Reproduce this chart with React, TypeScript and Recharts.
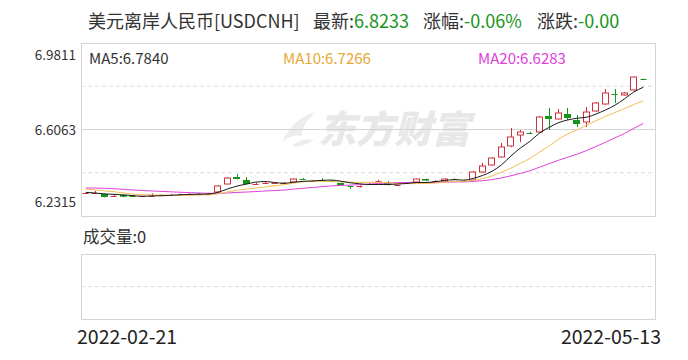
import { Bar, CartesianGrid, ComposedChart, Line, XAxis, YAxis } from 'recharts';

// trading days shown
const dates = [
  '2022-02-21', '2022-02-22', '2022-02-23', '2022-02-24', '2022-02-25',
  '2022-02-28', '2022-03-01', '2022-03-02', '2022-03-03', '2022-03-04',
  '2022-03-07', '2022-03-08', '2022-03-09', '2022-03-10', '2022-03-11',
  '2022-03-14', '2022-03-15', '2022-03-16', '2022-03-17', '2022-03-18',
  '2022-03-21', '2022-03-22', '2022-03-23', '2022-03-24', '2022-03-25',
  '2022-03-28', '2022-03-29', '2022-03-30', '2022-03-31', '2022-04-01',
  '2022-04-04', '2022-04-05', '2022-04-06', '2022-04-07', '2022-04-08',
  '2022-04-11', '2022-04-12', '2022-04-13', '2022-04-14', '2022-04-15',
  '2022-04-18', '2022-04-19', '2022-04-20', '2022-04-21', '2022-04-22',
  '2022-04-25', '2022-04-26', '2022-04-27', '2022-04-28', '2022-04-29',
  '2022-05-02', '2022-05-03', '2022-05-04', '2022-05-05', '2022-05-06',
  '2022-05-09', '2022-05-10', '2022-05-11', '2022-05-12', '2022-05-13',
];

const opens = [
  6.3300, 6.3311, 6.3268, 6.3160, 6.3225, 6.3200, 6.3170, 6.3175, 6.3230, 6.3240,
  6.3250, 6.3260, 6.3280, 6.3270, 6.3355, 6.3702, 6.4005, 6.3875, 6.3700, 6.3720,
  6.3740, 6.3750, 6.3788, 6.3930, 6.3820, 6.3900, 6.3860, 6.3745, 6.3615, 6.3572,
  6.3700, 6.3810, 6.3745, 6.3640, 6.3730, 6.3788, 6.3918, 6.3830, 6.3831, 6.3920,
  6.3840, 6.3875, 6.4221, 6.4525, 6.4872, 6.5348, 6.5825, 6.5930, 6.5955, 6.6648,
  6.6518, 6.6735, 6.6475, 6.6388, 6.6865, 6.7168, 6.7620, 6.7558, 6.7775, 6.8250,
];

const closes = [
  6.3311, 6.3318, 6.3140, 6.3220, 6.3150, 6.3160, 6.3175, 6.3230, 6.3240, 6.3250,
  6.3260, 6.3280, 6.3270, 6.3290, 6.3615, 6.3961, 6.3918, 6.3702, 6.3715, 6.3745,
  6.3750, 6.3760, 6.3918, 6.3910, 6.3840, 6.3870, 6.3830, 6.3658, 6.3572, 6.3615,
  6.3720, 6.3840, 6.3660, 6.3660, 6.3745, 6.3918, 6.3850, 6.3840, 6.3918, 6.3910,
  6.3831, 6.4221, 6.4481, 6.4828, 6.5305, 6.5738, 6.5955, 6.5911, 6.6605, 6.6518,
  6.6778, 6.6561, 6.6301, 6.6821, 6.7211, 6.7645, 6.7601, 6.7645, 6.8338, 6.8233,
];

const highs = [
  6.3355, 6.3398, 6.3290, 6.3240, 6.3250, 6.3230, 6.3200, 6.3300, 6.3260, 6.3280,
  6.3290, 6.3300, 6.3310, 6.3320, 6.3650, 6.3990, 6.4135, 6.4005, 6.3760, 6.3790,
  6.3780, 6.3790, 6.3940, 6.3960, 6.3870, 6.3950, 6.3880, 6.3760, 6.3630, 6.3640,
  6.3750, 6.3880, 6.3831, 6.3690, 6.3770, 6.3940, 6.3940, 6.3870, 6.3950, 6.3950,
  6.3870, 6.4260, 6.4612, 6.4860, 6.5478, 6.6128, 6.6041, 6.5960, 6.6650, 6.6995,
  6.6951, 6.6995, 6.6691, 6.7038, 6.7250, 6.7818, 6.7818, 6.7688, 6.8360, 6.8270,
];

const lows = [
  6.3268, 6.3268, 6.3120, 6.3140, 6.3130, 6.3140, 6.3150, 6.3160, 6.3200, 6.3220,
  6.3230, 6.3240, 6.3250, 6.3250, 6.3330, 6.3680, 6.3900, 6.3680, 6.3680, 6.3700,
  6.3720, 6.3730, 6.3770, 6.3890, 6.3800, 6.3850, 6.3810, 6.3640, 6.3485, 6.3550,
  6.3680, 6.3800, 6.3640, 6.3620, 6.3710, 6.3770, 6.3830, 6.3810, 6.3810, 6.3890,
  6.3810, 6.3850, 6.4200, 6.4500, 6.4850, 6.5300, 6.5521, 6.5890, 6.5930, 6.6041,
  6.6500, 6.6475, 6.6171, 6.6171, 6.6840, 6.7140, 6.7211, 6.7530, 6.7750, 6.8220,
];

// closes before the visible window, needed to warm up the moving averages
const priorCloses = [
  6.3350, 6.3400, 6.3550, 6.3700, 6.3700, 6.3650, 6.3600, 6.3620, 6.3600, 6.3650,
  6.3600, 6.3550, 6.3600, 6.3700, 6.3600, 6.3450, 6.3350, 6.3300, 6.3280,
];

const priceTicks = [6.2315, 6.6063, 6.9811];
const dashedLevels = [6.4189, 6.7937];

const RED = '#d0303c';
const GREEN = '#17951a';
const FONT = '"Noto Sans CJK SC", "Noto Sans", sans-serif';

const allCloses = [...priorCloses, ...closes];
const movingAvg = (i: number, n: number) => {
  const end = i + priorCloses.length + 1;
  const part = allCloses.slice(end - n, end);
  return part.reduce((a, b) => a + b, 0) / part.length;
};

const rows = dates.map((date, i) => ({
  date,
  open: opens[i],
  close: closes[i],
  high: highs[i],
  low: lows[i],
  range: [lows[i], highs[i]],
  ma5: movingAvg(i, 5),
  ma10: movingAvg(i, 10),
  ma20: movingAvg(i, 20),
}));

// pixel row of a price inside the plot area (domain is exactly the tick range)
const levelY = (offset: any, v: number) =>
  offset.top + ((priceTicks[2] - v) / (priceTicks[2] - priceTicks[0])) * offset.height;

const Candle = (props: any) => {
  const { x, y, width, height, payload } = props;
  if (!payload) return null;
  const { open, close, high, low } = payload;
  const top = Math.min(y, y + height);
  const h = Math.abs(height);
  const span = high - low || 1;
  const toY = (v: number) => top + ((high - v) / span) * h;
  const cx = Math.round(x + width / 2) + 0.5;
  const left = Math.round(x) + 0.5;
  const w = Math.max(Math.round(width) - 1, 2);
  const up = close >= open;
  const color = up ? RED : GREEN;
  const bTop = toY(Math.max(open, close));
  const bBot = toY(Math.min(open, close));
  if (bBot - bTop < 1.5) {
    const my = Math.round((bTop + bBot) / 2) + 0.5;
    return (
      <g>
        <line x1={cx} x2={cx} y1={toY(high)} y2={toY(low)} stroke={color} />
        <line x1={left} x2={left + w} y1={my} y2={my} stroke={color} />
      </g>
    );
  }
  if (up) {
    return (
      <g>
        <line x1={cx} x2={cx} y1={toY(high)} y2={bTop} stroke={color} />
        <line x1={cx} x2={cx} y1={bBot} y2={toY(low)} stroke={color} />
        <rect x={left} y={bTop} width={w} height={bBot - bTop} fill="#fff" stroke={color} />
      </g>
    );
  }
  return (
    <g>
      <line x1={cx} x2={cx} y1={toY(high)} y2={toY(low)} stroke={color} />
      <rect x={left - 0.5} y={bTop} width={w + 1} height={bBot - bTop} fill={color} />
    </g>
  );
};

const PriceTick = ({ x, y, payload }: any) => {
  const v = payload.value;
  const dy = v === priceTicks[2] ? 17 : v === priceTicks[0] ? -9 : 5;
  return (
    <text x={x - 3} y={y + dy} textAnchor="end" fontSize={13.5} fill="#333" fontFamily={FONT}>
      {v.toFixed(4)}
    </text>
  );
};

const DateTick = ({ x, y, payload }: any) => {
  const first = payload.value === dates[0];
  return (
    <text
      x={first ? x - 4 : x + 13}
      y={y + 26}
      textAnchor={first ? 'start' : 'end'}
      fontSize={19.5}
      fill="#222"
      fontFamily={FONT}
    >
      {payload.value}
    </text>
  );
};

const abs = (left: number, top: number, extra: any = {}) => ({
  position: 'absolute' as const,
  left,
  top,
  whiteSpace: 'nowrap' as const,
  fontFamily: FONT,
  lineHeight: 1,
  ...extra,
});

const App = () => {
  return (
    <div style={{ position: 'absolute', left: 0, top: 0, width: 688, height: 360, background: '#fff' }}>
      <div style={abs(88, 11, { fontSize: 18, color: '#333' })}>美元离岸人民币[USDCNH]</div>
      <div style={abs(313, 11, { fontSize: 18, color: '#333' })}>
        最新:<span style={{ color: GREEN }}>6.8233</span>
      </div>
      <div style={abs(423, 11, { fontSize: 18, color: '#333' })}>
        涨幅:<span style={{ color: GREEN }}>-0.06%</span>
      </div>
      <div style={abs(537, 11, { fontSize: 18, color: '#333' })}>
        涨跌:<span style={{ color: GREEN }}>-0.00</span>
      </div>

      <svg style={{ position: 'absolute', left: 276, top: 106 }} width={44} height={44}>
        <path d="M6 36 C14 20 24 10 40 6 C30 14 26 22 26 30 C20 28 14 30 6 36 Z" fill="#ececec" />
        <path d="M16 40 C22 34 30 32 38 34 C32 38 24 41 16 40 Z" fill="#ececec" />
      </svg>
      <div style={abs(318, 108, { fontSize: 38, fontWeight: 900, fontStyle: 'italic', color: '#e8e8e8' })}>
        东方财富
      </div>

      <div style={abs(81, 43, { width: 573, height: 172, border: '1px solid #d4d4d4' })} />

      <div style={abs(0, 0)}>
        <ComposedChart width={688} height={230} data={rows} margin={{ top: 43, right: 33, bottom: 14, left: 0 }} barCategoryGap={0}>
          <CartesianGrid
            vertical={false}
            stroke="#dcdcdc"
            strokeDasharray="4 3"
            horizontalCoordinatesGenerator={({ offset }: any) => dashedLevels.map((v) => levelY(offset, v))}
          />
          <CartesianGrid
            vertical={false}
            stroke="#d4d4d4"
            horizontalCoordinatesGenerator={({ offset }: any) => [levelY(offset, priceTicks[1])]}
          />
          <XAxis dataKey="date" hide padding={{ left: 0, right: 7 }} />
          <YAxis
            domain={[priceTicks[0], priceTicks[2]]}
            ticks={priceTicks}
            interval={0}
            width={81}
            axisLine={false}
            tickLine={false}
            tickSize={0}
            tick={<PriceTick />}
            allowDataOverflow
          />
          <Line dataKey="ma20" type="monotone" stroke="#e040dc" dot={false} strokeWidth={1} isAnimationActive={false} />
          <Line dataKey="ma10" type="monotone" stroke="#f2bf55" dot={false} strokeWidth={1} isAnimationActive={false} />
          <Line dataKey="ma5" type="monotone" stroke="#1a1a1a" dot={false} strokeWidth={1} isAnimationActive={false} />
          <Bar dataKey="range" barSize={7} shape={<Candle />} isAnimationActive={false} />
        </ComposedChart>
      </div>

      <div style={abs(89, 50, { fontSize: 15, color: '#333' })}>MA5:6.7840</div>
      <div style={abs(283, 50, { fontSize: 15, color: '#e6a935' })}>MA10:6.7266</div>
      <div style={abs(478, 50, { fontSize: 15, color: '#e03ed8' })}>MA20:6.6283</div>

      <div style={abs(83, 228, { fontSize: 16.5, color: '#333' })}>成交量:0</div>
      <div style={abs(81, 254, { width: 573, height: 64, border: '1px solid #d4d4d4' })} />

      <div style={abs(0, 254)}>
        <ComposedChart width={688} height={106} data={rows} margin={{ top: 1, right: 33, bottom: 0, left: 81 }}>
          <CartesianGrid
            vertical={false}
            stroke="#dcdcdc"
            strokeDasharray="4 3"
            horizontalCoordinatesGenerator={({ offset }: any) => [offset.top + offset.height / 2]}
          />
          <XAxis
            dataKey="date"
            ticks={[dates[0], dates[dates.length - 1]]}
            interval={0}
            height={42}
            axisLine={false}
            tickLine={false}
            tickSize={0}
            tickMargin={0}
            padding={{ left: 0, right: 7 }}
            tick={<DateTick />}
          />
          <YAxis hide domain={[0, 1]} />
        </ComposedChart>
      </div>
    </div>
  );
};

export default App;
